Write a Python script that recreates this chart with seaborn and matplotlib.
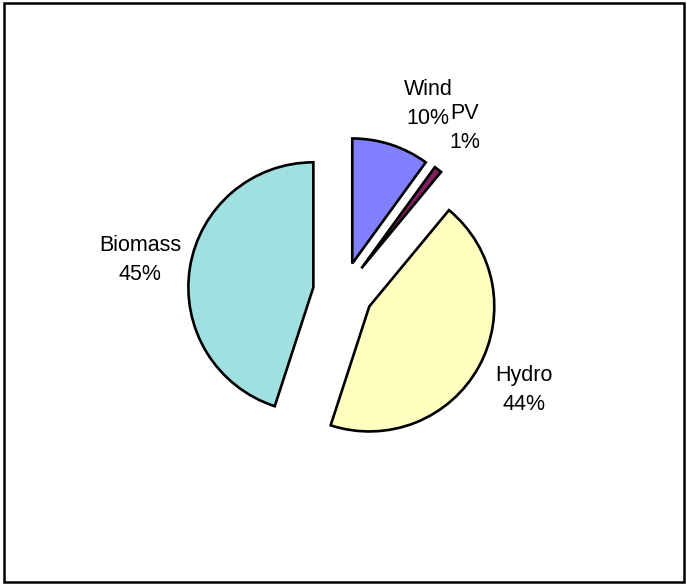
import matplotlib
matplotlib.use("Agg")
import matplotlib.pyplot as plt
import seaborn as sns
from matplotlib.patches import Rectangle

categories = ["Wind", "PV", "Hydro", "Biomass"]
shares = [10, 1, 44, 45]
colors = ["#8080FF", "#802060", "#FFFFC0", "#A0E0E0"]

sns.set_theme(style="white")
plt.rcParams['font.family'] = ['Liberation Sans', 'DejaVu Sans']

W, H = 687, 585
fig = plt.figure(figsize=(W / 100, H / 100), dpi=100)
ax = fig.add_axes([0, 0, 1, 1])

radius = 125
ax.pie(shares, explode=[30] * len(shares), center=(343, H - 292), radius=radius,
       startangle=90, counterclock=False, colors=colors,
       wedgeprops=dict(edgecolor="black", linewidth=1.9), frame=False)
ax.set_xlim(0, W)
ax.set_ylim(0, H)
ax.set_aspect('equal')
ax.axis('off')

label_pos = {"Wind": (428, 104), "PV": (465, 128), "Hydro": (524, 390), "Biomass": (140, 260)}
for cat, val in zip(categories, shares):
    x, y = label_pos[cat]
    ax.text(x, H - y, f"{cat}\n{val}%", ha="center", va="center", fontsize=15.5,
            linespacing=1.45, color="black")

fig.patches.append(Rectangle((4 / W, 3 / H), (684 - 4) / W, (582 - 3) / H,
                             transform=fig.transFigure, fill=False,
                             edgecolor="black", linewidth=1.8))

fig.savefig("out.png", dpi=100)
